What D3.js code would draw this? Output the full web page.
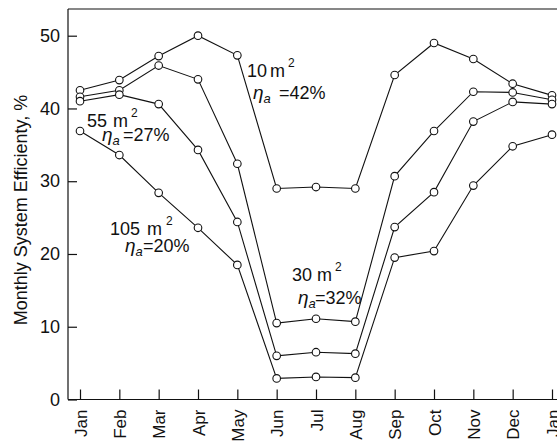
<!DOCTYPE html>
<html>
<head>
<meta charset="utf-8">
<script src="https://cdn.jsdelivr.net/npm/d3@7/dist/d3.min.js"></script>
<style>
  html, body { margin: 0; padding: 0; background: #fff; }
  svg { display: block; }
  text { font-family: "Liberation Sans", Arial, Helvetica, sans-serif; fill: #111; }
</style>
</head>
<body>
<svg id="chart" width="557" height="443"></svg>
<script>
// ---- data ----
const months = ["Jan","Feb","Mar","Apr","May","Jun","Jul","Aug","Sep","Oct","Nov","Dec","Jan"];
const s10  = [42.5, 43.9, 47.2, 50.0, 47.3, 29.0, 29.2, 29.0, 44.6, 49.0, 46.8, 43.4, 41.8];
const s30  = [41.6, 42.5, 45.9, 44.0, 32.4, 10.5, 11.1, 10.7, 30.7, 36.9, 42.3, 42.2, 41.2];
const s55  = [41.0, 41.9, 40.6, 34.3, 24.4,  6.0,  6.5,  6.3, 23.7, 28.5, 38.2, 40.9, 40.6];
const s105 = [36.9, 33.6, 28.4, 23.6, 18.5,  2.9,  3.1,  3.0, 19.5, 20.4, 29.4, 34.8, 36.4];
const yTicks = [0, 10, 20, 30, 40, 50];
const yTitle = "Monthly System Efficienty, %";
const labels = [
  {area: "10", eta: "42%"},
  {area: "30", eta: "32%"},
  {area: "55", eta: "27%"},
  {area: "105", eta: "20%"}
];

(function () {
// ---- layout ----
const svg = d3.select("#chart");
const pLeft = 68, pRight = 560, pTop = 9, pBottom = 399.5;
const x = d3.scaleLinear().domain([0, months.length - 1]).range([80, 552]);
const y = d3.scaleLinear().domain([0, 50]).range([pBottom, 35.7]);
const FONT = "Liberation Sans, Arial, sans-serif";

// frame (left + top)
svg.append("line").attr("x1", pLeft).attr("x2", pLeft).attr("y1", pTop).attr("y2", pBottom)
  .attr("stroke", "#111").attr("stroke-width", 1.2);
svg.append("line").attr("x1", pLeft).attr("x2", pRight).attr("y1", pTop).attr("y2", pTop)
  .attr("stroke", "#111").attr("stroke-width", 1.2);

// y axis (ticks inside)
const yAxis = d3.axisLeft(y).tickValues(yTicks).tickSize(-9).tickPadding(8);
const gy = svg.append("g").attr("transform", `translate(${pLeft},0)`).call(yAxis);
gy.select(".domain").remove();
gy.selectAll(".tick line").attr("stroke", "#111").attr("stroke-width", 1.2);
gy.selectAll(".tick text").attr("font-size", 18).attr("fill", "#111").attr("font-family", FONT);

// x axis (ticks inside, rotated labels)
const xAxis = d3.axisBottom(x).tickValues(d3.range(months.length))
  .tickFormat(i => months[i]).tickSize(-10).tickPadding(0);
const gx = svg.append("g").attr("transform", `translate(0,${pBottom})`).call(xAxis);
gx.select(".domain").attr("d", `M${pLeft},0H${pRight}`).attr("stroke", "#111").attr("stroke-width", 1.2);
gx.selectAll(".tick line").attr("stroke", "#111").attr("stroke-width", 1.2);
gx.selectAll(".tick text")
  .attr("font-size", 17).attr("fill", "#111").attr("font-family", FONT)
  .attr("transform", "rotate(-90)")
  .attr("text-anchor", "end")
  .attr("x", -10).attr("y", 0).attr("dy", "0.36em");

// y title
svg.append("text")
  .attr("transform", `translate(27,210) rotate(-90)`)
  .attr("text-anchor", "middle")
  .attr("font-size", 18)
  .text(yTitle);

// series
const series = [s10, s30, s55, s105];
const line = d3.line().x((d, i) => x(i)).y(d => y(d));
series.forEach(s => {
  svg.append("path").datum(s).attr("d", line)
    .attr("fill", "none").attr("stroke", "#111").attr("stroke-width", 1.1);
});
series.forEach(s => {
  svg.append("g").selectAll("circle").data(s).join("circle")
    .attr("cx", (d, i) => x(i)).attr("cy", d => y(d)).attr("r", 3.8)
    .attr("fill", "#fff").attr("stroke", "#111").attr("stroke-width", 1.1);
});

// annotations (layout positions)
const pos = [
  {nx: 247, mx: 270, supx: 288, ay: 77,  hx: 253, eqx: 279, ey: 99},
  {nx: 292, mx: 317, supx: 335, ay: 281, hx: 298, eqx: 315, ey: 304},
  {nx: 87,  mx: 113, supx: 131, ay: 127, hx: 102, eqx: 123, ey: 141},
  {nx: 110, mx: 147, supx: 166, ay: 235, hx: 125, eqx: 143, ey: 252}
];
labels.forEach((lb, k) => {
  const p = pos[k];
  const t1 = svg.append("text").attr("y", p.ay).attr("font-size", 18);
  t1.append("tspan").attr("x", p.nx).text(lb.area);
  t1.append("tspan").attr("x", p.mx).text("m");
  t1.append("tspan").attr("x", p.supx).attr("font-size", 12).attr("dy", -10).text("2");
  const t2 = svg.append("text").attr("y", p.ey).attr("font-size", 18);
  t2.append("tspan").attr("x", p.hx).attr("font-style", "italic").attr("font-size", 19).text("η");
  t2.append("tspan").attr("font-style", "italic").attr("font-size", 13).attr("dy", 4).text("a");
  t2.append("tspan").attr("x", p.eqx).attr("dy", -4).text("=" + lb.eta);
});
})();
</script>
</body>
</html>
